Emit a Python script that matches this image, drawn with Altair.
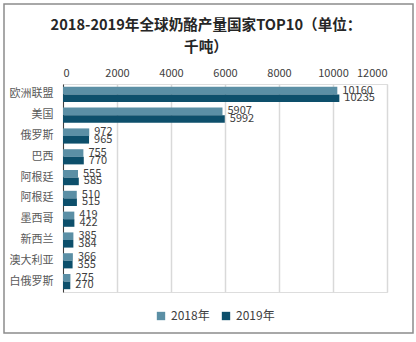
import altair as alt
import pandas as pd
import json

countries = ["欧洲联盟", "美国", "俄罗斯", "巴西", "阿根廷", "阿根廷", "墨西哥", "新西兰", "澳大利亚", "白俄罗斯"]
v2018 = [10160, 5907, 972, 755, 555, 510, 419, 385, 366, 275]
v2019 = [10235, 5992, 965, 770, 585, 515, 422, 384, 355, 270]
years = ["2018年", "2019年"]
colors = ["#5B8FA5", "#0D4F6B"]
x_ticks = [0, 2000, 4000, 6000, 8000, 10000, 12000]
title_lines = ["2018-2019年全球奶酪产量国家TOP10（单位：", "千吨）"]

rows = []
for i, c in enumerate(countries):
    rows.append({"idx": i, "country": c, "year": years[0], "value": v2018[i]})
    rows.append({"idx": i, "country": c, "year": years[1], "value": v2019[i]})
df = pd.DataFrame(rows)

font = "Noto Sans CJK SC"
label_expr = json.dumps(countries, ensure_ascii=False) + "[datum.value]"

W, H = 324, 208
LEFT, TOP = 63, 84

base = alt.Chart(df)

y_enc = alt.Y("idx:O", sort="ascending",
              scale=alt.Scale(paddingInner=0.27, paddingOuter=0.135),
              axis=alt.Axis(title=None, labelExpr=label_expr, ticks=False,
                            domain=True, domainColor="#404040", domainWidth=1,
                            labelFont=font, labelFontSize=11, labelColor="#595959",
                            labelPadding=10, grid=False))
yoff = alt.YOffset("year:N", sort=years, scale=alt.Scale(paddingInner=0, paddingOuter=0))

bars = base.mark_bar().encode(
    x=alt.X("value:Q", scale=alt.Scale(domain=[0, 12000]),
            axis=alt.Axis(orient="top", values=x_ticks, format="d", title=None, ticks=False, domain=False,
                          grid=True, gridColor="#D9D9D9", gridWidth=1.5,
                          labelFont=font, labelFontSize=11, labelColor="#404040", labelPadding=6)),
    y=y_enc,
    yOffset=yoff,
    color=alt.Color("year:N", sort=years, scale=alt.Scale(domain=years, range=colors),
                    legend=alt.Legend(title=None, orient="none", direction="horizontal",
                                      legendX=92, legendY=226, symbolType="square", symbolSize=70,
                                      labelFont=font, labelFontSize=12, labelColor="#404040",
                                      columnPadding=10, symbolStrokeWidth=0)),
)

labels = base.mark_text(align="left", baseline="middle", dx=5, font=font, fontSize=11,
                        color="#404040").encode(
    x="value:Q",
    y=alt.Y("idx:O", sort="ascending"),
    yOffset=yoff,
    text="value:Q",
)

border = alt.Chart(pd.DataFrame({"a": [0]})).mark_rect(
    fill=None, stroke="#8C8C8C", strokeWidth=1.5
).encode(x=alt.value(4 - LEFT), x2=alt.value(413 - LEFT),
         y=alt.value(4 - TOP), y2=alt.value(333 - TOP))

title_df = pd.DataFrame({"line": title_lines, "n": [0, 1]})
title1 = alt.Chart(title_df).transform_filter("datum.n == 0").mark_text(
    font=font, fontSize=14.6, fontWeight="bold", color="#262626", align="center", baseline="middle"
).encode(x=alt.value(206 - LEFT), y=alt.value(26 - TOP), text="line:N")
title2 = alt.Chart(title_df).transform_filter("datum.n == 1").mark_text(
    font=font, fontSize=14.6, fontWeight="bold", color="#262626", align="center", baseline="middle"
).encode(x=alt.value(206 - LEFT), y=alt.value(48 - TOP), text="line:N")

chart = alt.layer(bars, labels, border, title1, title2).properties(
    width=W, height=H,
    padding={"left": LEFT, "top": TOP, "right": 416 - LEFT - W, "bottom": 342 - TOP - H},
    autosize=alt.AutoSizeParams(type="none"),
).configure_view(stroke=None).configure(background="white")

chart.save("out.html", embed_options={"renderer": "svg", "actions": False})
